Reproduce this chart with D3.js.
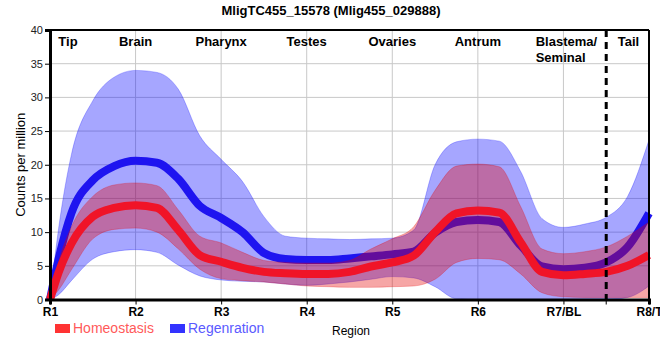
<!DOCTYPE html>
<html>
<head>
<meta charset="utf-8">
<script src="https://cdn.jsdelivr.net/npm/d3@7"></script>
<style>
  body { margin: 0; background: #fff; }
  svg { display: block; font-family: "Liberation Sans", Arial, sans-serif; }
</style>
</head>
<body>
<svg id="chart" width="660" height="360"></svg>
<script>
// regions along the body, x ticks
const regions = ['R1', 'R2', 'R3', 'R4', 'R5', 'R6', 'R7/BL', 'R8/T'];
const tissues = ['Tip', 'Brain', 'Pharynx', 'Testes', 'Ovaries', 'Antrum', 'Blastema/|Seminal', 'Tail'];
const yTicks = [0, 5, 10, 15, 20, 25, 30, 35, 40];

// sample positions (in region units, R1 = 0)
const steps = [0, 0.1, 0.25, 0.5, 0.75, 1, 1.25, 1.5, 1.75, 2, 2.25, 2.5, 2.75, 3, 3.25, 3.5,
               3.75, 4, 4.25, 4.5, 4.75, 5, 5.25, 5.5, 5.75, 6, 6.25, 6.5, 6.75, 7];

// Homeostasis
const homeoMean = [0, 4.0, 8.3, 12.3, 13.6, 14.0, 13.6, 10.3, 6.6, 5.6, 4.7, 4.1, 3.9, 3.8, 3.8, 4.1,
                   4.9, 5.5, 6.5, 10.0, 12.8, 13.2, 12.9, 8.5, 4.1, 3.6, 3.8, 4.1, 5.0, 6.6];
const homeoLow  = [0, 1.4, 4.4, 9.0, 10.4, 10.6, 10.0, 7.5, 4.5, 3.1, 2.8, 2.6, 2.3, 2.0, 1.9, 1.8,
                   1.8, 1.9, 2.0, 3.0, 5.5, 6.1, 5.9, 3.8, 1.0, 0.4, 0.3, 0.3, 0.3, 0.3];
const homeoHigh = [0, 5.5, 10.8, 15.3, 17.0, 17.3, 16.9, 13.3, 9.4, 8.4, 7.0, 5.8, 5.5, 5.4, 5.4, 5.8,
                   7.5, 9.0, 10.8, 16.2, 19.8, 20.1, 19.7, 13.8, 7.5, 6.8, 7.1, 7.8, 9.4, 11.5];

// Regeneration
const regenMean = [0, 6.0, 12.8, 17.7, 19.8, 20.6, 20.3, 17.9, 13.9, 12.1, 10.0, 6.9, 6.0, 5.85, 5.85, 6.1,
                   6.4, 6.7, 7.1, 9.9, 11.5, 11.8, 11.5, 8.0, 4.9, 4.5, 4.7, 5.5, 7.8, 12.8];
const regenLow  = [0, 0.7, 2.8, 6.0, 7.1, 7.4, 7.0, 5.1, 3.5, 2.9, 2.7, 2.6, 2.3, 2.1, 2.3, 2.6,
                   3.0, 3.4, 3.2, 1.9, 0.1, 0, 0, 0, 0, 0, 0, 0, 0.3, 2.0];
const regenHigh = [0, 10.5, 21.5, 29.5, 33.0, 34.0, 33.7, 31.2, 24.3, 20.8, 17.5, 12.3, 9.4, 9.1, 9.0, 8.9,
                   9.0, 9.1, 10.3, 20.0, 23.4, 23.8, 23.5, 19.0, 12.0, 10.7, 11.2, 12.2, 15.3, 23.7];

const legendItems = ['Homeostasis', 'Regenration'];

const svg = d3.select('#chart');
const mLeft = 50, mRight = 649, mTop = 30, mBottom = 299.5;

const x = d3.scaleLinear().domain([0, regions.length - 1]).range([mLeft, mRight]);
const y = d3.scaleLinear().domain([0, 40]).range([mBottom, mTop]);

// grid
svg.append('g')
    .selectAll('line')
    .data(yTicks.slice(1))
    .join('line')
    .attr('x1', mLeft).attr('x2', mRight)
    .attr('y1', d => y(d)).attr('y2', d => y(d))
    .attr('stroke', '#c8c8c8').attr('stroke-width', 1);
svg.append('g')
    .selectAll('line')
    .data(d3.range(1, regions.length - 1))
    .join('line')
    .attr('x1', d => x(d)).attr('x2', d => x(d))
    .attr('y1', mTop).attr('y2', mBottom)
    .attr('stroke', '#c8c8c8').attr('stroke-width', 1);

const area = (lo, hi) => d3.area()
    .x((d, i) => x(steps[i]))
    .y0((d, i) => y(lo[i]))
    .y1((d, i) => y(hi[i]))
    .curve(d3.curveMonotoneX)(steps);
const line = vals => d3.line()
    .x((d, i) => x(steps[i]))
    .y((d, i) => y(vals[i]))
    .curve(d3.curveMonotoneX)(steps);

// regeneration first, homeostasis drawn over it
svg.append('path')
    .attr('d', area(regenLow, regenHigh))
    .attr('fill', 'rgb(0,0,255)').attr('fill-opacity', 0.35)
    .attr('stroke', 'rgb(0,0,255)').attr('stroke-opacity', 0.25);
svg.append('path')
    .attr('d', line(regenMean))
    .attr('fill', 'none')
    .attr('stroke', 'rgb(30,20,240)').attr('stroke-width', 8);
svg.append('path')
    .attr('d', area(homeoLow, homeoHigh))
    .attr('fill', 'rgb(230,0,0)').attr('fill-opacity', 0.35)
    .attr('stroke', 'rgb(230,0,0)').attr('stroke-opacity', 0.25);
svg.append('path')
    .attr('d', line(homeoMean))
    .attr('fill', 'none')
    .attr('stroke', 'rgb(240,20,40)').attr('stroke-width', 8);

// frame
svg.append('line').attr('x1', mLeft).attr('x2', mRight).attr('y1', mTop).attr('y2', mTop)
    .attr('stroke', '#000').attr('stroke-width', 2);
svg.append('line').attr('x1', mRight).attr('x2', mRight).attr('y1', mTop).attr('y2', mBottom)
    .attr('stroke', '#000').attr('stroke-width', 2);

// y axis
const yAxis = svg.append('g')
    .attr('transform', `translate(${mLeft},0)`)
    .call(d3.axisLeft(y).tickValues(yTicks).tickSize(5).tickPadding(2));
yAxis.select('.domain').attr('stroke-width', 3);
yAxis.selectAll('text').attr('font-size', 11).attr('fill', '#222')
    .attr('font-family', '"Liberation Sans", Arial, sans-serif');

// x axis, with extra tick for the blastema/tail divide
const xAxis = svg.append('g')
    .attr('transform', `translate(0,${mBottom})`)
    .call(d3.axisBottom(x).tickValues(d3.range(regions.length)).tickFormat(i => regions[i])
        .tickSize(5).tickPadding(3));
xAxis.select('.domain').attr('stroke-width', 3);
xAxis.selectAll('text').attr('font-size', 12).attr('font-weight', 'bold').attr('fill', '#000')
    .attr('font-family', '"Liberation Sans", Arial, sans-serif');
svg.append('line')
    .attr('x1', x(6.5)).attr('x2', x(6.5)).attr('y1', mBottom).attr('y2', mBottom + 5)
    .attr('stroke', '#000');

// dashed divider
svg.append('line')
    .attr('x1', x(6.5)).attr('x2', x(6.5)).attr('y1', mTop).attr('y2', mBottom)
    .attr('stroke', '#000').attr('stroke-width', 3).attr('stroke-dasharray', '7,5');

// tissue labels
const labelAt = [0.21, 1, 2, 3, 4, 5, 6.05, 6.76];
tissues.forEach((t, i) => {
    const cx = i === 6 ? x(labelAt[i]) - 32 : x(labelAt[i]);
    const txt = svg.append('text')
        .attr('x', cx)
        .attr('y', 46)
        .attr('text-anchor', i === 6 ? 'start' : 'middle')
        .attr('font-size', 13).attr('font-weight', 'bold');
    t.split('|').forEach((p, j) => {
        txt.append('tspan')
            .attr('x', cx)
            .attr('dy', j ? 16 : 0)
            .text(p);
    });
});

// title
svg.append('text')
    .attr('x', 331).attr('y', 15)
    .attr('text-anchor', 'middle')
    .attr('font-size', 13).attr('font-weight', 'bold')
    .text('MligTC455_15578 (Mlig455_029888)');

// axis titles
svg.append('text')
    .attr('transform', `translate(25,${(mTop + mBottom) / 2}) rotate(-90)`)
    .attr('text-anchor', 'middle')
    .attr('font-size', 13)
    .text('Counts per million');
svg.append('text')
    .attr('x', 351).attr('y', 335)
    .attr('text-anchor', 'middle')
    .attr('font-size', 12)
    .text('Region');

// legend
const legendColors = ['#ff3333', '#3333ff'];
const legendText = ['#ff5a5a', '#5a5aff'];
const legendX = [55, 170];
legendItems.forEach((name, i) => {
    svg.append('rect')
        .attr('x', legendX[i]).attr('y', 324)
        .attr('width', 15).attr('height', 9)
        .attr('fill', legendColors[i]);
    svg.append('text')
        .attr('x', legendX[i] + 18).attr('y', 333)
        .attr('font-size', 14)
        .attr('fill', legendText[i])
        .text(name);
});
</script>
</body>
</html>
